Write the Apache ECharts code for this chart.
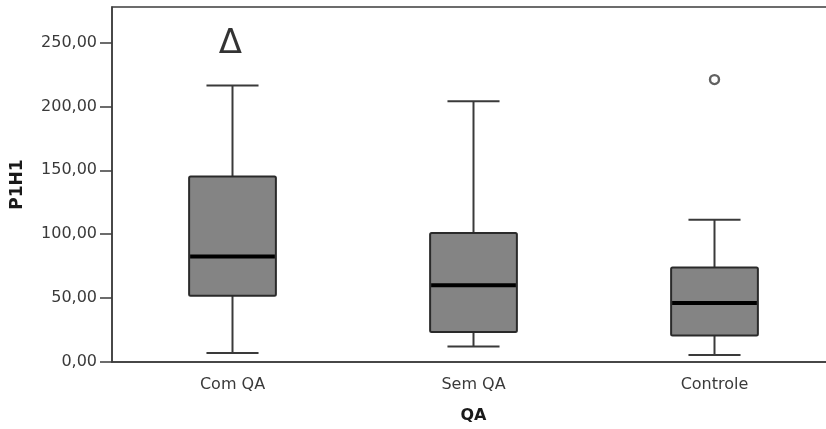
<!DOCTYPE html>
<html>
<head>
<meta charset="utf-8">
<script src="https://cdn.jsdelivr.net/npm/echarts@6/dist/echarts.min.js"></script>
<style>html,body{margin:0;padding:0;background:#fff;}#c{width:826px;height:429px;}</style>
</head>
<body>
<div id="c"></div>
<script>
const categories = ['Com QA', 'Sem QA', 'Controle'];
const whiskerLow = [7.0, 12.2, 5.5];
const q1 = [51.9, 23.5, 20.8];
const median = [82.6, 60.0, 46.2];
const q3 = [145.2, 101.0, 74.0];
const whiskerHigh = [216.4, 204.0, 111.4];
const outliers = [[2, 221.0]];
const deltaMark = [[0, 250]];
const yMin = 0, yMax = 277.8, yStep = 50;
const xName = 'QA';
const yName = 'P1H1';

const boxData = categories.map((c, i) => [i, whiskerLow[i], q1[i], median[i], q3[i], whiskerHigh[i]]);
const fmt = v => v.toFixed(2).replace('.', ',');
const FONT = 'DejaVu Sans';
const AX = '#3c3c3c';

const chart = echarts.init(document.getElementById('c'), null, {renderer: 'canvas'});
chart.setOption({
  animation: false,
  grid: {left: 112, top: 7, width: 723, height: 355, show: true, borderColor: AX, borderWidth: 1.5,
         backgroundColor: 'transparent', containLabel: false, outerBoundsMode: 'none'},
  xAxis: {
    type: 'category', data: categories,
    name: xName, nameLocation: 'middle', nameGap: 46,
    nameTextStyle: {fontFamily: FONT, fontSize: 16, fontWeight: 'bold', color: '#1a1a1a'},
    axisLine: {lineStyle: {color: AX, width: 1.5}},
    axisTick: {alignWithLabel: true, length: 12, lineStyle: {color: AX, width: 1.5}},
    axisLabel: {fontFamily: FONT, fontSize: 16, color: '#3a3a3a', margin: 15},
    splitLine: {show: false}
  },
  yAxis: {
    type: 'value', min: yMin, max: yMax, interval: yStep,
    name: yName, nameLocation: 'middle', nameGap: 86, nameRotate: 90,
    nameTextStyle: {fontFamily: FONT, fontSize: 17, fontWeight: 'bold', color: '#1a1a1a'},
    axisLine: {show: true, lineStyle: {color: AX, width: 1.5}},
    axisTick: {show: true, length: 12, lineStyle: {color: AX, width: 1.5}},
    axisLabel: {fontFamily: FONT, fontSize: 16, color: '#3a3a3a', margin: 15, formatter: fmt, showMaxLabel: false},
    splitLine: {show: false}
  },
  series: [
    {
      type: 'custom',
      data: boxData,
      encode: {x: 0, y: [1, 2, 3, 4, 5]},
      renderItem: function (params, api) {
        const x = api.value(0);
        const band = api.size([1, 0])[0];
        const bw = band * 0.36;
        const cw = band * 0.216;
        const pLow = api.coord([x, api.value(1)]);
        const pQ1 = api.coord([x, api.value(2)]);
        const pMed = api.coord([x, api.value(3)]);
        const pQ3 = api.coord([x, api.value(4)]);
        const pHigh = api.coord([x, api.value(5)]);
        const cx = pLow[0];
        const ls = {stroke: '#3a3a3a', lineWidth: 2};
        return {
          type: 'group',
          children: [
            {type: 'line', shape: {x1: cx, y1: pHigh[1], x2: cx, y2: pQ3[1]}, style: ls},
            {type: 'line', shape: {x1: cx, y1: pLow[1], x2: cx, y2: pQ1[1]}, style: ls},
            {type: 'line', shape: {x1: cx - cw / 2, y1: pHigh[1], x2: cx + cw / 2, y2: pHigh[1]}, style: ls},
            {type: 'line', shape: {x1: cx - cw / 2, y1: pLow[1], x2: cx + cw / 2, y2: pLow[1]}, style: ls},
            {type: 'rect', shape: {x: cx - bw / 2, y: pQ3[1], width: bw, height: pQ1[1] - pQ3[1], r: 1.5},
              style: {fill: '#848484', stroke: '#2a2a2a', lineWidth: 2}},
            {type: 'line', shape: {x1: cx - bw / 2 + 1, y1: pMed[1], x2: cx + bw / 2 - 1, y2: pMed[1]},
              style: {stroke: '#000', lineWidth: 4}}
          ]
        };
      },
      z: 2
    },
    {
      type: 'scatter',
      data: outliers,
      symbol: 'circle', symbolSize: 9,
      itemStyle: {color: '#fff', borderColor: '#3a3a3a', borderWidth: 2.4},
      z: 3
    },
    {
      type: 'scatter',
      data: deltaMark,
      symbolSize: 0,
      label: {show: true, position: 'inside', formatter: 'Δ', fontFamily: FONT, fontSize: 34, color: '#000', offset: [-2, 2]},
      z: 3
    }
  ]
});
</script>
</body>
</html>
